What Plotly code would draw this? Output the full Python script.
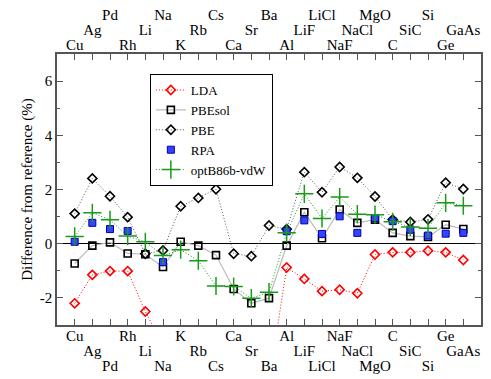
import plotly.graph_objects as go

# Materials (x positions 1..23)
materials = ["Cu", "Ag", "Pd", "Rh", "Li", "Na", "K", "Rb", "Cs", "Ca", "Sr", "Ba",
             "Al", "LiF", "LiCl", "NaF", "NaCl", "MgO", "C", "SiC", "Si", "Ge", "GaAs"]

# Difference from reference (%)
lda = [-2.20, -1.15, -1.01, -1.01, -2.50, -3.70, -5.00, -5.50, -6.00, -4.40, -4.90, -5.10,
       -0.88, -1.30, -1.75, -1.70, -1.83, -0.40, -0.32, -0.32, -0.26, -0.32, -0.60]
pbesol = [-0.73, -0.07, 0.05, -0.36, -0.39, -0.86, 0.07, -0.07, -0.42, -1.67, -2.20, -2.01,
          -0.07, 1.16, 0.20, 1.26, 0.77, 0.89, 0.40, 0.28, 0.25, 0.70, 0.54]
pbe = [1.11, 2.41, 1.75, 0.98, -0.37, -0.25, 1.38, 1.69, 2.01, -0.37, -0.46, 0.67,
       0.54, 2.64, 1.90, 2.83, 2.43, 1.74, 0.89, 0.80, 0.90, 2.25, 2.02]
rpa = [0.07, 0.77, 0.54, 0.47, None, -0.68, None, None, None, None, None, None,
       0.46, 0.86, 0.36, 1.01, 0.40, 0.95, 0.83, 0.52, 0.30, 0.37, 0.40]
optb86b = [0.27, 1.14, 0.88, 0.28, 0.07, -0.44, -0.22, -0.63, -1.56, -1.58, -2.01, -1.79,
           0.40, 1.84, 0.93, 1.72, 1.09, 1.07, 0.81, 0.62, 0.57, 1.51, 1.40]

y_ticks = [-2, 0, 2, 4, 6]
y_ticklabels = ["-2", "0", "2", "4", "6"]

x = list(range(1, len(materials) + 1))
FONT = "'Liberation Serif', 'Times New Roman', Times, serif"
AXC = "#555555"
DOT = "1px,2px"

fig = go.Figure()
fig.add_trace(go.Scatter(x=x, y=lda, name="LDA", mode="lines+markers",
                         line=dict(color="red", width=1, dash=DOT),
                         marker=dict(symbol="diamond-open", size=7, color="red", line=dict(width=1.6))))
fig.add_trace(go.Scatter(x=x, y=pbesol, name="PBEsol", mode="lines+markers",
                         line=dict(color="#bbbbbb", width=1.2),
                         marker=dict(symbol="square-open", size=7, color="black", line=dict(width=1.6))))
fig.add_trace(go.Scatter(x=x, y=pbe, name="PBE", mode="lines+markers",
                         line=dict(color="#555555", width=1, dash=DOT),
                         marker=dict(symbol="diamond-open", size=7, color="black", line=dict(width=1.6))))
fig.add_trace(go.Scatter(x=x, y=rpa, name="RPA", mode="markers",
                         marker=dict(symbol="square", size=7, color="#3344ff", line=dict(width=1, color="#0000aa"))))
fig.add_trace(go.Scatter(x=x, y=optb86b, name="optB86b-vdW", mode="lines+markers",
                         line=dict(color="#1a9a1a", width=1, dash=DOT),
                         marker=dict(symbol="cross-thin-open", size=13, color="#1a9a1a", line=dict(width=1.5, color="#1a9a1a"))))

# three staggered rows of labels, bottom and top
def rows(k):
    return [i + 1 for i in range(len(materials)) if i % 3 == k], [m for i, m in enumerate(materials) if i % 3 == k]

label_axis = dict(overlaying="x", anchor="y", range=[0, 24], ticks="", showline=False, automargin=False,
                  showgrid=False, zeroline=False, tickfont=dict(family=FONT, size=15, color="black"))
layout_axes = {}
for k, name in enumerate(["xaxis3", "xaxis4", "xaxis5"]):
    tv, tt = rows(k)
    layout_axes[name] = dict(label_axis, side="bottom", tickvals=tv, ticktext=tt, ticklabelstandoff=15 * k)
for k, name in enumerate(["xaxis2", "xaxis6", "xaxis7"]):
    tv, tt = rows(k)
    layout_axes[name] = dict(label_axis, side="top", tickvals=tv, ticktext=tt, ticklabelstandoff=15 * k)

# empty traces so the label axes get drawn
for ax in ["x2", "x3", "x4", "x5", "x6", "x7"]:
    fig.add_trace(go.Scatter(x=[1], y=[None], xaxis=ax, yaxis="y", mode="markers",
                             showlegend=False, hoverinfo="skip"))

fig.update_layout(
    width=483, height=371,
    margin=dict(l=49, r=10, t=46, b=54),
    paper_bgcolor="white", plot_bgcolor="white",
    font=dict(family=FONT, size=15, color="black"),
    xaxis=dict(range=[0, 24], tickvals=x, showticklabels=False, ticks="inside", ticklen=6,
               tickcolor=AXC, showline=True, linecolor=AXC, linewidth=1.5, mirror="ticks",
               showgrid=False, zeroline=False, automargin=False),
    yaxis=dict(range=[-3, 7], tickvals=y_ticks, ticktext=y_ticklabels, ticks="inside", ticklen=6, tickcolor=AXC,
               minor=dict(tickvals=[-1, 1, 3, 5], ticks="inside", ticklen=3, tickcolor=AXC),
               showline=True, linecolor=AXC, linewidth=1.5, mirror="ticks", showgrid=False,
               zeroline=True, zerolinecolor="black", zerolinewidth=1, automargin=False,
               title=dict(text="Difference from reference (%)", font=dict(family=FONT, size=15), standoff=4)),
    legend=dict(x=0.219, y=0.926, xanchor="left", yanchor="top", bordercolor="black", borderwidth=1,
                bgcolor="white", font=dict(family=FONT, size=13), tracegroupgap=0, itemwidth=30),
    **layout_axes,
)

fig.write_html("out.html")
